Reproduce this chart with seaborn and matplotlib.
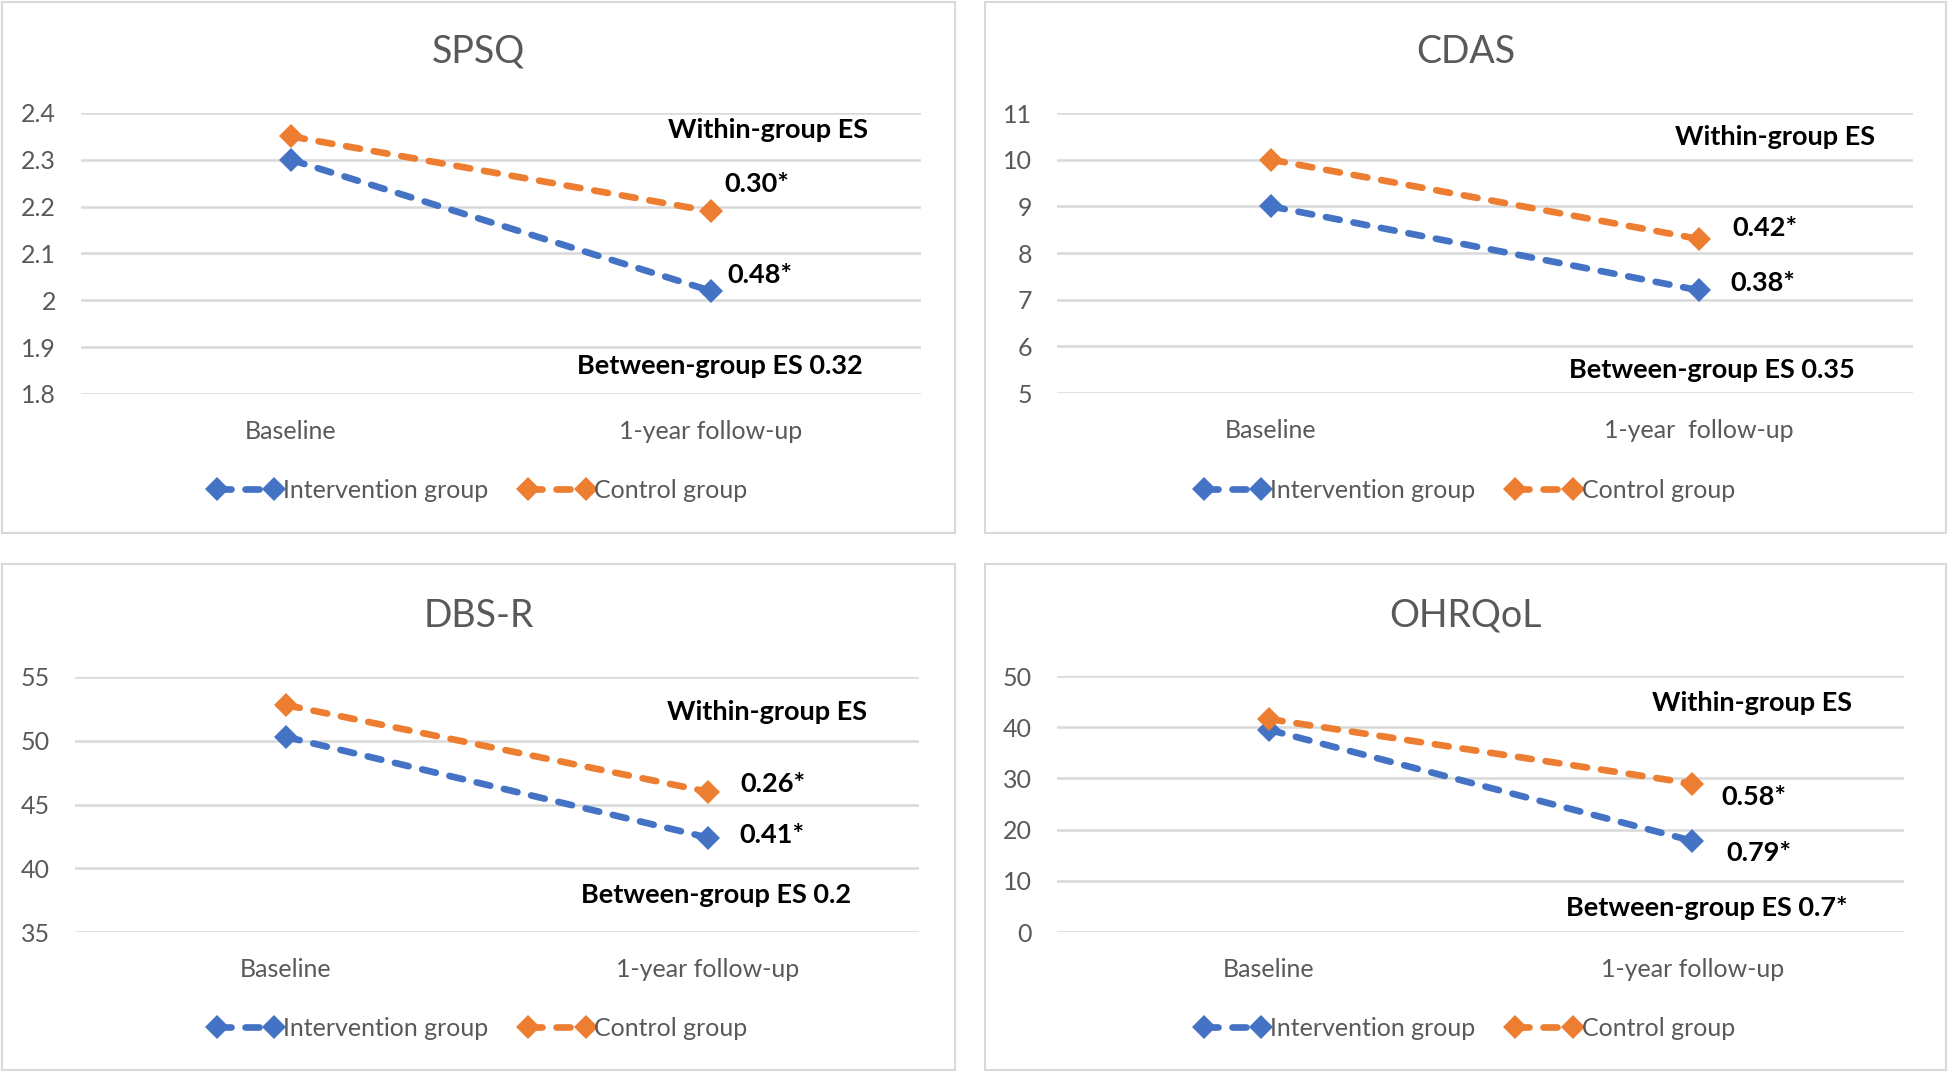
import matplotlib
matplotlib.use("Agg")
import matplotlib.pyplot as plt
import pandas as pd
import seaborn as sns
from matplotlib.lines import Line2D
from matplotlib.patches import Rectangle

# values
times = ["Baseline", "1-year follow-up"]
groups = ["Intervention group", "Control group"]

spsq_intervention = [2.30, 2.02]
spsq_control = [2.35, 2.19]
cdas_intervention = [9.0, 7.2]
cdas_control = [10.0, 8.3]
dbsr_intervention = [50.3, 42.4]
dbsr_control = [52.8, 46.0]
ohrqol_intervention = [39.5, 17.8]
ohrqol_control = [41.6, 29.0]

titles = ["SPSQ", "CDAS", "DBS-R", "OHRQoL"]
xlabels = [times, ["Baseline", "1-year  follow-up"], times, times]
yticks = [
    [1.8, 1.9, 2.0, 2.1, 2.2, 2.3, 2.4],
    [5, 6, 7, 8, 9, 10, 11],
    [35, 40, 45, 50, 55],
    [0, 10, 20, 30, 40, 50],
]
within_control = ["0.30*", "0.42*", "0.26*", "0.58*"]
within_interv = ["0.48*", "0.38*", "0.41*", "0.79*"]
between = ["Between-group ES 0.32", "Between-group ES 0.35",
           "Between-group ES 0.2", "Between-group ES 0.7*"]

series = [
    (spsq_intervention, spsq_control),
    (cdas_intervention, cdas_control),
    (dbsr_intervention, dbsr_control),
    (ohrqol_intervention, ohrqol_control),
]

# layout in pixels of the 1948x1072 canvas
W, H = 1948, 1072
panels = [(2, 2, 955, 533), (985, 2, 1946, 533),
          (2, 564, 955, 1070), (985, 564, 1946, 1070)]
plot_areas = [(81, 113, 921, 394), (1057, 113, 1913, 393),
              (75, 677, 919, 932), (1057, 676, 1904, 932)]
# annotation spots, axes fraction: within title, control ES, intervention ES, between
notes_xy = [
    [(0.818, 0.940), (0.805, 0.749), (0.808, 0.423), (0.760, 0.101)],
    [(0.839, 0.914), (0.827, 0.589), (0.825, 0.393), (0.765, 0.082)],
    [(0.820, 0.863), (0.827, 0.580), (0.826, 0.380), (0.760, 0.146)],
    [(0.821, 0.895), (0.823, 0.527), (0.829, 0.309), (0.767, 0.094)],
]
title_y = [52, 52, 616, 616]
legend_y = [490, 490, 1028, 1028]

blue = "#4472C4"
orange = "#ED7D31"
grey_text = "#595959"
dash = (0, (2.1, 2.1))

sns.set_style("white")
plt.rcParams["font.family"] = ["Lato", "DejaVu Sans"]

fig = plt.figure(figsize=(W / 100, H / 100), dpi=100)

for i in range(4):
    px0, py0, px1, py1 = panels[i]
    fig.patches.append(Rectangle((px0 / W, 1 - py1 / H), (px1 - px0) / W,
                                 (py1 - py0) / H, transform=fig.transFigure,
                                 fill=False, edgecolor="#D9D9D9", linewidth=1.5))

    x0, y0, x1, y1 = plot_areas[i]
    ax = fig.add_axes([x0 / W, 1 - y1 / H, (x1 - x0) / W, (y1 - y0) / H])

    interv, ctrl = series[i]
    df = pd.DataFrame({
        "pos": [0, 1, 0, 1],
        "value": list(interv) + list(ctrl),
        "group": [groups[0]] * 2 + [groups[1]] * 2,
    })
    sns.lineplot(data=df, x="pos", y="value", hue="group",
                 palette=[blue, orange], marker="D", markersize=12,
                 markeredgewidth=0, linewidth=4.8, linestyle=dash,
                 dash_capstyle="round", legend=False, ax=ax, zorder=3)

    ax.set_xlim(-0.5, 1.5)
    ax.set_ylim(yticks[i][0], yticks[i][-1])
    ax.set_yticks(yticks[i])
    ax.set_yticklabels([f"{v:g}" for v in yticks[i]])
    ax.set_xticks([0, 1])
    ax.set_xticklabels(xlabels[i])
    ax.set_xlabel("")
    ax.set_ylabel("")
    ax.grid(axis="y", color="#D9D9D9", linewidth=1.8)
    ax.set_axisbelow(True)
    for s in ax.spines.values():
        s.set_visible(False)
    ax.tick_params(axis="both", length=0, labelsize=18, colors=grey_text)
    ax.tick_params(axis="y", pad=18)
    ax.tick_params(axis="x", pad=19)

    texts = ["Within-group ES", within_control[i], within_interv[i], between[i]]
    for txt, (tx, ty) in zip(texts, notes_xy[i]):
        ax.text(tx, ty, txt, transform=ax.transAxes, ha="center", va="center",
                fontsize=19.5, fontweight="bold", color="black")

    cx = (px0 + px1) / 2 / W
    fig.text(cx, 1 - title_y[i] / H, titles[i], ha="center", va="center",
             fontsize=27, color=grey_text)

    handles = [Line2D([0], [0], color=c, linestyle=dash, linewidth=4.8,
                      dash_capstyle="round", marker="D", markersize=12,
                      markeredgewidth=0)
               for c in (blue, orange)]
    fig.legend(handles, groups, loc="center", ncol=2, frameon=False,
               bbox_to_anchor=(cx, 1 - legend_y[i] / H), numpoints=2,
               handlelength=2.9, handletextpad=0.05, columnspacing=1.3,
               prop={"size": 18}, labelcolor=grey_text)

fig.savefig("out.png", dpi=100)
